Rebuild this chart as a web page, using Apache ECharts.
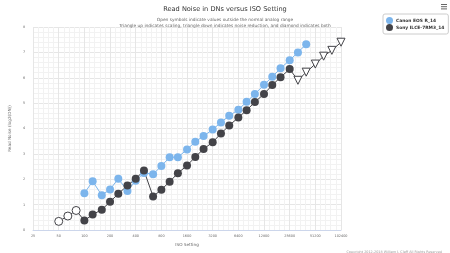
<!DOCTYPE html>
<html><head><meta charset="utf-8">
<script src="https://cdn.jsdelivr.net/npm/echarts@6/dist/echarts.min.js"></script>
<style>html,body{margin:0;padding:0;background:#fff}#c{width:450px;height:253px}</style>
</head><body><div id="c"></div>
<script>
const xTickLabels = ['25','50','100','200','400','800','1600','3200','6400','12800','25600','51200','102400'];
const yTickLabels = ['0','1','2','3','4','5','6','7','8'];
const isoCanon = [100,125,160,200,250,320,400,500,640,800,1000,1250,1600,2000,2500,3200,4000,5000,6400,8000,10000,12800,16000,20000,25600,32000,40000];
const canonNoise = [1.45,1.92,1.37,1.60,2.02,1.54,1.94,2.25,2.20,2.52,2.87,2.87,3.17,3.48,3.70,3.96,4.24,4.50,4.74,5.05,5.36,5.72,6.04,6.37,6.69,7.00,7.32];
const isoSony = [50,64,80,100,125,160,200,250,320,400,500,640,800,1000,1250,1600,2000,2500,3200,4000,5000,6400,8000,10000,12800,16000,20000,25600,32000,40000,51200,64000,80000,102400];
const sonyNoise = [0.34,0.55,0.77,0.37,0.61,0.80,1.11,1.43,1.75,2.02,2.34,1.32,1.59,1.90,2.24,2.54,2.88,3.19,3.46,3.80,4.12,4.43,4.72,5.04,5.36,5.71,6.02,6.34,5.90,6.22,6.54,6.85,7.08,7.40];
const sonyMarker = ['open','open','open',
  'fill','fill','fill','fill','fill','fill','fill','fill','fill','fill','fill','fill','fill','fill','fill','fill','fill','fill','fill','fill','fill','fill','fill','fill','fill',
  'down','down','down','down','down','down'];
const seriesNames = ['Canon EOS R_14','Sony ILCE-7RM3_14'];
const colors = ['#7cb5ec','#434348'];
const baseIso = 25;

const FONT = 'DejaVu Sans';
const toX = iso => Math.log2(iso / baseIso);

const canonData = isoCanon.map((iso, i) => [toX(iso), canonNoise[i]]);
const sonyData = isoSony.map((iso, i) => {
  const k = sonyMarker[i];
  const item = { value: [toX(iso), sonyNoise[i]] };
  if (k === 'open') {
    item.itemStyle = { color: '#ffffff', borderColor: colors[1], borderWidth: 1 };
  } else if (k === 'down') {
    item.symbol = 'triangle';
    item.symbolRotate = 180;
    item.symbolSize = 8;
    item.itemStyle = { color: '#ffffff', borderColor: colors[1], borderWidth: 1 };
  }
  return item;
});

const chart = echarts.init(document.getElementById('c'), null, { renderer: 'canvas' });
chart.setOption({
  animation: false,
  backgroundColor: '#ffffff',
  textStyle: { fontFamily: FONT },
  title: [
    { text: 'Read Noise in DNs versus ISO Setting', left: 'center', top: 1,
      textStyle: { fontFamily: FONT, fontSize: 6.6, fontWeight: 'normal', color: '#333333' } },
    { text: 'Open symbols indicate values outside the normal analog range\nTriangle up indicates scaling, triangle down indicates noise reduction, and diamond indicates both',
      left: 'center', top: 12,
      textStyle: { fontFamily: FONT, fontSize: 4.3, fontWeight: 'normal', color: '#666666', lineHeight: 6, align: 'center' } },
    { text: 'Copyright 2012-2018 William J. Claff All Rights Reserved', right: 3, top: 246,
      textStyle: { fontFamily: FONT, fontSize: 3.4, fontWeight: 'normal', color: '#999999' } }
  ],
  legend: {
    data: seriesNames,
    orient: 'vertical',
    left: 383, top: 14,
    padding: [3, 4, 3, 3],
    itemGap: 0,
    itemWidth: 7, itemHeight: 7,
    icon: 'circle',
    borderColor: '#cccccc', borderWidth: 1, borderRadius: 2,
    textStyle: { fontFamily: FONT, fontSize: 4.4, fontWeight: 'bold', color: '#333333', padding: [0,0,0,-2] }
  },
  grid: { left: 21, right: 109, top: 27, bottom: 23, containLabel: false },
  xAxis: {
    type: 'value', min: 0, max: 12, interval: 1,
    name: 'ISO Setting', nameLocation: 'middle', nameGap: 11,
    nameTextStyle: { fontFamily: FONT, fontSize: 4.2, color: '#666666' },
    axisLine: { show: true, lineStyle: { color: '#ccd6eb', width: 1 } },
    axisTick: { show: false },
    axisLabel: { fontFamily: FONT, fontSize: 3.4, color: '#666666', margin: 5,
      formatter: v => xTickLabels[Math.round(v)] || '' },
    splitLine: { show: true, lineStyle: { color: '#e6e6e6', width: 1 } },
    minorTick: { show: false, splitNumber: 5 },
    minorSplitLine: { show: true, lineStyle: { color: '#f2f2f2', width: 1 } }
  },
  yAxis: {
    type: 'value', min: 0, max: 8, interval: 1,
    name: 'Read Noise (log2(DN))', nameLocation: 'middle', nameGap: 15, nameRotate: 90,
    nameTextStyle: { fontFamily: FONT, fontSize: 4.2, color: '#666666' },
    axisLine: { show: false },
    axisTick: { show: false },
    axisLabel: { fontFamily: FONT, fontSize: 3.4, color: '#666666', margin: 8,
      formatter: v => yTickLabels[Math.round(v)] || '' },
    splitLine: { show: true, lineStyle: { color: '#e6e6e6', width: 1 } },
    minorTick: { show: false, splitNumber: 5 },
    minorSplitLine: { show: true, lineStyle: { color: '#f2f2f2', width: 1 } }
  },
  series: [
    { name: seriesNames[0], type: 'line', data: canonData, symbol: 'circle', symbolSize: 8,
      showAllSymbol: true,
      lineStyle: { color: colors[0], width: 1 }, itemStyle: { color: colors[0] } },
    { name: seriesNames[1], type: 'line', data: sonyData, symbol: 'circle', symbolSize: 8,
      showAllSymbol: true,
      lineStyle: { color: colors[1], width: 1 }, itemStyle: { color: colors[1] } }
  ],
  graphic: [
    { type: 'group', left: 441, top: 4, children: [
      { type: 'rect', shape: { x: 0, y: 0, width: 6, height: 1 }, style: { fill: '#666666' } },
      { type: 'rect', shape: { x: 0, y: 2.2, width: 6, height: 1 }, style: { fill: '#666666' } },
      { type: 'rect', shape: { x: 0, y: 4.4, width: 6, height: 1 }, style: { fill: '#666666' } }
    ] }
  ]
});
</script>
</body></html>
